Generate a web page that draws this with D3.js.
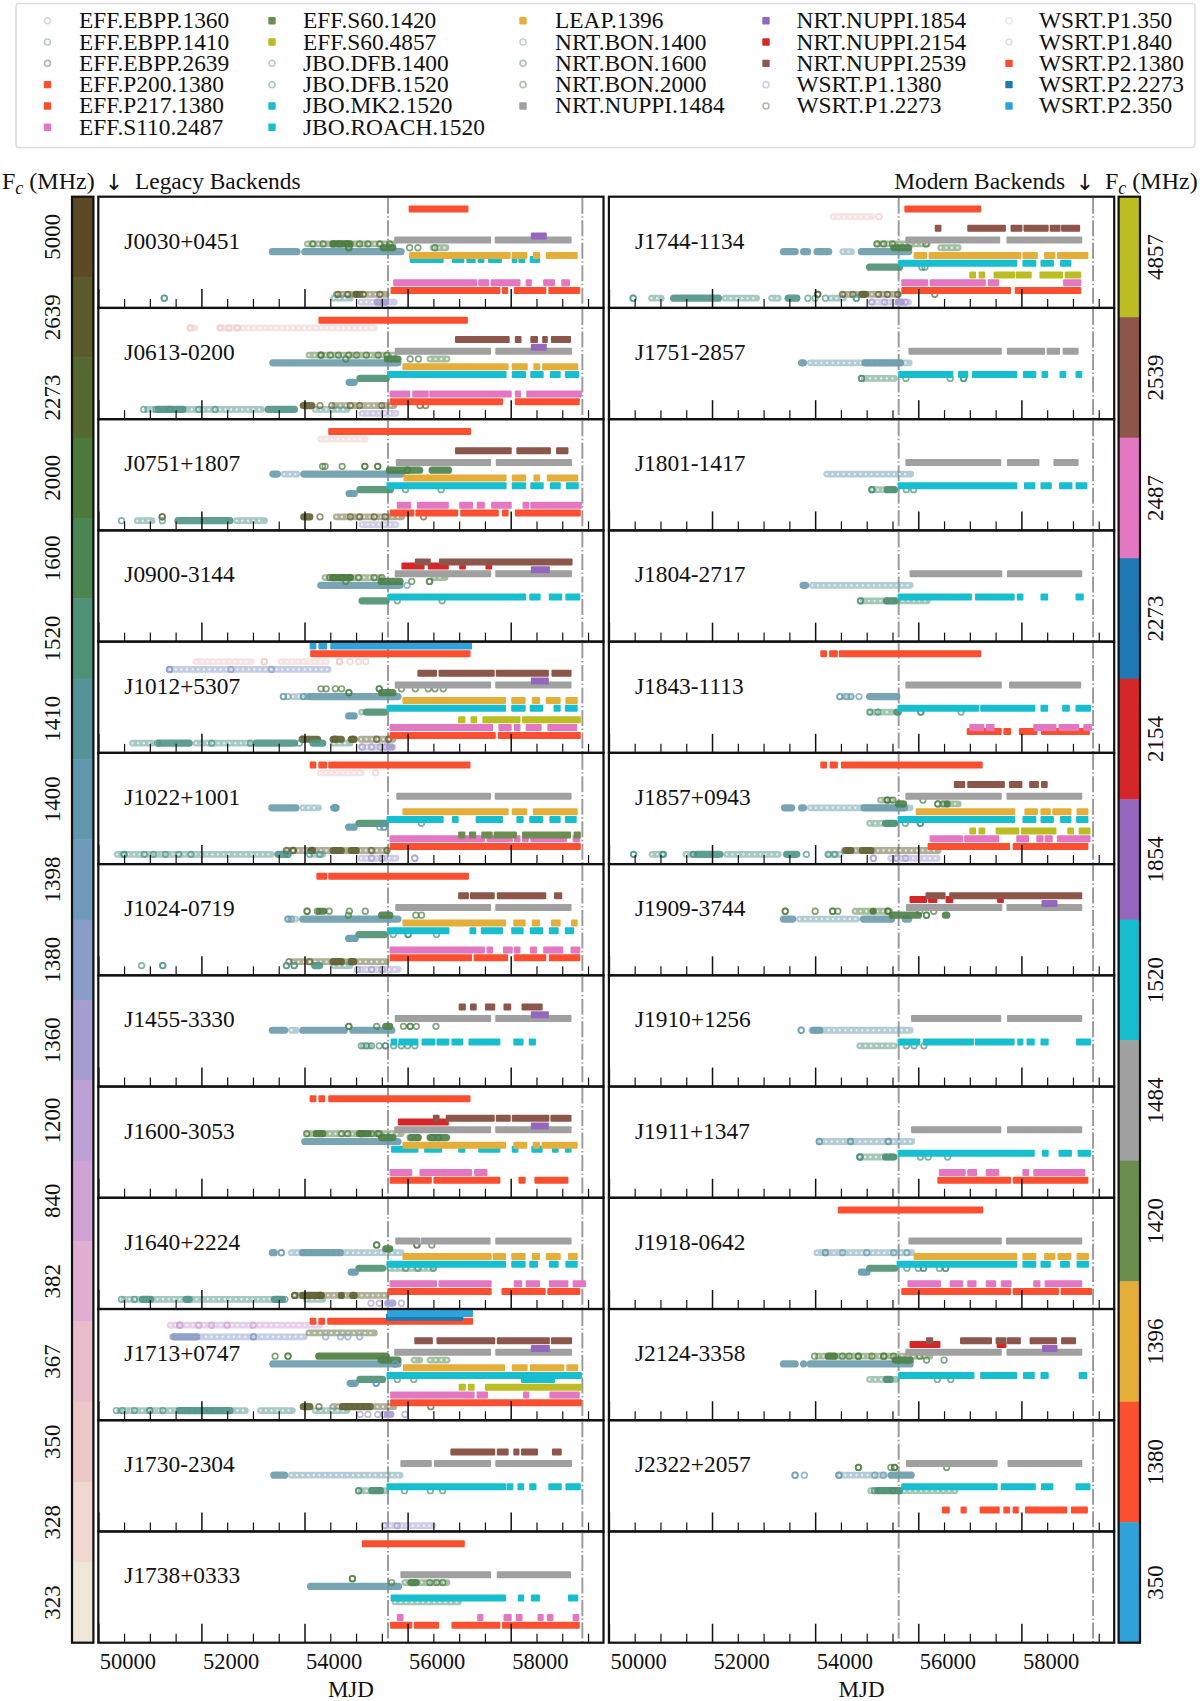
<!DOCTYPE html>
<html>
<head>
<meta charset="utf-8">
<script src="https://cdn.jsdelivr.net/npm/d3@7"></script>
<style>
  html, body { margin: 0; padding: 0; background: white; }
  text { font-family: "Liberation Serif", serif; fill: #111; }
</style>
</head>
<body>
<div id="chart"></div>
<script>
// backend ids, same order as the legend
const E1360=0,E1410=1,E2639=2,P200=3,P217=4,S110=5,S1420=6,S4857=7,D1400=8,D1520=9,MK2=10,ROACH=11,LEAP=12,
      B1400=13,B1600=14,B2000=15,N1484=16,N1854=17,N2154=18,N2539=19,W1380=20,W2273=21,W350=22,W840=23,
      P1380=24,P2273=25,P350=26,ROACH2=27;

const backendNames = ["EFF.EBPP.1360","EFF.EBPP.1410","EFF.EBPP.2639","EFF.P200.1380","EFF.P217.1380","EFF.S110.2487",
  "EFF.S60.1420","EFF.S60.4857","JBO.DFB.1400","JBO.DFB.1520","JBO.MK2.1520","JBO.ROACH.1520",
  "LEAP.1396","NRT.BON.1400","NRT.BON.1600","NRT.BON.2000","NRT.NUPPI.1484",
  "NRT.NUPPI.1854","NRT.NUPPI.2154","NRT.NUPPI.2539","WSRT.P1.1380","WSRT.P1.2273",
  "WSRT.P1.350","WSRT.P1.840","WSRT.P2.1380","WSRT.P2.2273","WSRT.P2.350"];
// line of each backend inside a panel, counted from the top (ROACH2: the second ROACH line on J1713)
const backendLine = [27,26,25,23,24,22,21,20,19,18,16,17,15,14,13,12,11,10,9,8,7,6,5,4,3,2,1,18];
const backendColors = ["#a59ccf","#4f9488","#5f5f30","#fc4f30","#fc4f30","#e377c2","#6b8e4e","#bcbd22","#6097ad","#4b8f70","#17becf","#17becf",
  "#e5ae38","#6a9bab","#4a8048","#4c7a3c","#a0a0a0","#9467bd","#d62728","#8c564b","#8a9cc8","#55692f",
  "#ecc9c8","#cfa2d4","#fc4f30","#1f77b4","#30a2da","#17becf"];
const ringBackends = [E1360,E1410,E2639,D1400,D1520,B1400,B1600,B2000,W1380,W2273,W350,W840];

const pulsars = ["J0030+0451","J0613-0200","J0751+1807","J0900-3144","J1012+5307","J1022+1001","J1024-0719","J1455-3330","J1600-3053","J1640+2224","J1713+0747","J1730-2304","J1738+0333",
  "J1744-1134","J1751-2857","J1801-1417","J1804-2717","J1843-1113","J1857+0943","J1909-3744","J1910+1256","J1911+1347","J1918-0642","J2124-3358","J2322+2057"];

const legacyFreqs = [5000,2639,2273,2000,1600,1520,1410,1400,1398,1380,1360,1200,840,382,367,350,328,323];
const legacyColors = ["#5c4a26","#5a5a2a","#55692f","#4c7a3c","#4a8552","#4f9176","#559399","#6097ad","#6e9bba","#8a9cc8","#a59ccf","#bda0d6","#cfa2d4","#e0aed0","#e8bccb","#ecc9c8","#efd8cf","#f0e6d8"];
const modernFreqs = [4857,2539,2487,2273,2154,1854,1520,1484,1420,1396,1380,350];
const modernColors = ["#bcbd22","#8c564b","#e377c2","#1f77b4","#d62728","#9467bd","#17becf","#a0a0a0","#6b8e4e","#e5ae38","#fc4f30","#30a2da"];

const xMajor = [50000,52000,54000,56000,58000];
const xMinor = [50500,51000,51500,52500,53000,53500,54500,55000,55500,56500,57000,57500,58500,59000,59500];
const eraLines = [55620,59390];

// every entry: backend, then start,end pairs in MJD. one row per pulsar, in the order of pulsars
const barSpans = [
 /*J0030*/ [[P1380,56020,57180],[N1484,55740,57620,57690,59180],[N1854,58390,58700],[MK2,56040,56700,56860,57100,57140,57320,57360,57490,57560,57830,58020,58130,58150,58280,58370,58570],[LEAP,56030,58000,58020,58320,58430,58570,58680,59300],[S110,55720,57350,57370,57580,57610,58190,58290,58410,58630,58860,58980,59150],[P217,55670,57800,57830,57950,58060,58690,58730,59350]],
 /*J0613*/ [[P1380,54270,57170],[N2539,56920,57980,58080,58210,58380,58530,58610,58720,58780,59170],[N1484,55750,57620,57700,59190],[N1854,58390,58700],[ROACH,55600,57920,58020,58300,58380,58640,58760,58970,59050,59330],[LEAP,55900,57960,58020,58330,58440,58570,58610,59310],[S110,55650,56050,56090,56410,56420,58020,58080,58200,58300,59380],[P217,55650,57850,58080,59340]],
 /*J0751*/ [[P1380,54460,57230],[N2539,56920,58020,58110,58780,58880,59120],[N1484,55770,57620,57710,59190],[ROACH,55590,57920,58020,58300,58380,58640,58760,58970,59070,59320],[LEAP,55920,57920,58020,58300,58440,58570,58700,59310],[S110,55790,56070,56180,56800,57000,57270,57340,57500,57620,58020,58230,58360,58380,59380],[P217,55650,56130,56150,56980,57020,57770,57830,57960,58080,59360]],
 /*J0900*/ [[N2154,55880,56330,56390,56800,57000,57130,57510,57640],[N2539,56140,56450,56610,59200],[N1484,55750,57620,57700,59190],[N1854,58390,58760],[ROACH,55610,58300,58360,58580,58740,59000,59060,59350]],
 /*J1012*/ [[P350,54100,54230,54270,54440,54500,57250],[P1380,54110,57220],[N2539,56190,56570,56600,57690,57710,58740,58790,59180],[N1484,55750,57620,57700,59180],[N1854,58390,58740],[ROACH,55590,57910,58010,58290,58370,58630,58830,58970,59050,59300],[LEAP,55900,57910,58010,58290,58410,58570,58680,58970,59060,59300],[S4857,56980,57120,57220,57350,57450,58190,58220,59360],[S110,55650,57660,57760,58020,58060,58190,58290,58600,58710,59290],[P217,55650,57710,57750,59360]],
 /*J1022*/ [[P1380,54100,54230,54270,54440,54460,57220],[N1484,55780,57620,57690,59180],[ROACH,55590,56700,56860,56990,57320,57850,58110,58250,58360,58630,58750,58970,59050,59280],[LEAP,55900,57960,58020,58320,58430,59300],[S110,55650,57500,57530,58040,58060,58190,58220,58350,58380,59090,59200,59350],[S1420,56980,57120,57190,57330,57430,57650,57670,58120,58220,59170,59220,59360],[P217,55650,59360]],
 /*J1024*/ [[P1380,54230,54440,54460,57190],[N2539,56980,57190,57210,57690,57730,58690,58840,59000],[N1484,55760,57620,57700,59180],[ROACH,55600,56810,57200,57330,57420,57850,58010,58250,58370,58630,58740,58930,59050,59230],[LEAP,55900,57910,58050,58290,58410,58570,58780,58970,59170,59300],[S110,55650,57500,57530,57660,57850,58040,58060,58190,58370,58510,58630,59020,59160,59350],[P217,55650,57250,57280,57950,58060,58690,58740,59350]],
 /*J1455*/ [[N2539,56990,57130,57210,57340,57500,57700,57860,58010,58210,58620],[N1484,55750,57620,57700,59180],[N1854,58390,58740],[ROACH,55670,55800,55820,56210,56270,56540,56560,56810,56850,57080,57180,57800,58050,58250,58350,58490]],
 /*J1600*/ [[P1380,54100,54230,54270,54400,54460,57220],[N2154,55810,56800],[N2539,56490,56620,56740,57690,57710,58000,58020,58750,58770,59180],[N1484,55740,57620,57700,59180],[N1854,58390,58740],[MK2,55680,56210,56320,56670,56980,57120,57370,57800,58020,58150,58400,58620,58800,58930,59050,59180],[LEAP,55900,57910,58050,58320,58430,58570,58600,59300],[S110,55650,56090,56230,57250,57290,57550],[P217,55650,56470,56500,57800,58150,58290,58460,59120]],
 /*J1640*/ [[N1484,55760,56240,56250,57610,57700,59180],[ROACH,55590,57910,58010,58290,58360,58530,58740,58930,59060,59300],[LEAP,55900,57630,57650,57910,58010,58290,58410,58570,58680,58970,59110,59300],[S110,55650,56570,56600,57630,58060,58220,58290,58570,58740,59120,59200,59460],[P217,55620,57630,57820,58680,58710,59350]],
 /*J1713*/ [[P2273,55580,57080],[P350,55610,57270],[P1380,54100,54230,54270,54400,54440,57270],[N2539,56130,56490,56560,57700,57730,58760,58780,59190],[N1484,55740,57620,57700,59190],[N1854,58390,58760],[ROACH2,58200,58860],[ROACH,55590,59380],[LEAP,55910,57890,58020,58330,58370,59040,59080,59310],[S4857,56990,57130,57170,57300,57500,59380],[S110,55660,57300,57340,57560,58240,58360,58750,59340],[P217,55660,59380]],
 /*J1730*/ [[N2539,56830,57700,57730,57960,58050,58170,58200,58530,58800,58990],[N1484,55860,56470,56510,57620,57700,59190],[ROACH,55590,57910,57920,58050,58130,58260,58360,58500,58730,58990,59060,59360]],
 /*J1738*/ [[P1380,55110,57110],[N1484,55860,57620,57730,59170],[ROACH,55670,57910,58140,58260,58390,58570,59110,59310],[S110,55790,55920,57350,57470,57860,58020,58100,58230,58520,58640,58700,58830,59200,59330],[P217,55660,56090,56120,56610,56850,57800,57830,59340]],
 /*J1744*/ [[P1380,55730,57220],[N2539,56320,56450,56950,57700,57790,58020,58040,58530,58550,58760,58770,59140],[N1484,55750,57590,57710,59180],[ROACH,55610,57920,58020,58290,58370,58630,58750,58970],[LEAP,55910,56170,56200,58000,58020,58320,58440,58660,58690,59300],[S4857,56990,57120,57170,57300,57460,57880,57890,58200,58350,58810,58840,59160],[S110,55670,56190,56220,57310,57350,57570,58810,59160],[P217,55670,57800,57870,59160]],
 /*J1751*/ [[N1484,55810,57620,57720,58460,58490,58750,58800,59110],[ROACH,55610,56680,56770,56970,57040,57920,58030,58290,58390,58520,58740,58870,59050,59180]],
 /*J1801*/ [[N1484,55750,57610,57720,58350,58620,59110],[ROACH,55600,57920,58050,58270,58370,58590,58730,58990,59050,59280]],
 /*J1804*/ [[N1484,55830,57630,57720,59180],[ROACH,55600,57040,57100,57870,57910,58040,58370,58520,59050,59210]],
 /*J1843*/ [[P1380,54100,54230,54270,54440,54460,57220],[N1484,55750,57620,57760,59160],[ROACH,55600,57180,57200,58270,58370,58520,58790,58940,59050,59350],[P200,56940,57620,57650,57800,57950,58310,58380,59330],[S110,56990,57280,57310,57480,58230,58680,58720,59120,59200,59370]],
 /*J1857*/ [[P1380,54100,54230,54280,54440,54500,57250],[N2539,56690,56910,56950,57680,57760,58020,58150,58340,58380,58510],[N1484,55750,57620,57710,59180],[ROACH,55600,57880,58020,58290,58370,58630,58750,58970,59060,59300],[LEAP,55950,57880,58060,58320,58370,58570,58600,58970,59070,59300],[S4857,56990,57120,57170,57300,57500,57960,57990,58680,58890,59020,59110,59340],[S110,56220,56870,56890,57570,57900,58150,58290,58430,58450,58610,58690,59340],[P217,56180,57780,57830,59300]],
 /*J1909*/ [[N2154,55830,56170,56190,56370,56530,56680,57530,57660],[N2539,56140,56530,56600,59180],[N1484,55760,57630,57710,59180],[N1854,58390,58700]],
 /*J1910*/ [[N1484,55860,57610,57720,59180],[ROACH,55600,56040,56090,57080,57100,57870,57920,58040,58100,58260,58370,58530,59060,59350]],
 /*J1911*/ [[N1484,55860,57610,57720,59180],[ROACH,55600,58260,58400,58530,58720,58980,59090,59350],[S110,56400,56920,56950,57140,57310,57570,58020,58150,58230,59240],[P217,56370,57800,57830,59300]],
 /*J1918*/ [[P1380,54440,57260],[N1484,55810,57620,57700,59180],[ROACH,55580,57920,58020,58290,58370,58570,58750,58940,59070,59310],[LEAP,55910,57920,58020,58290,58440,58660,58700,58970,59070,59310],[S110,55790,56440,56610,56870,56950,57130,57310,57510,57600,57810,58230,58370,58450,59180],[P217,55670,57800,57830,58730,58760,59370]],
 /*J2124*/ [[N2154,55830,56430,57520,57710],[N2539,56150,56290,56810,57430,57500,57710,57720,57990,58160,58690,58770,59060],[N1484,55750,57620,57710,59180],[N1854,58400,58700],[ROACH,55610,57090,57200,57920,58030,58260,58370,58530,59110,59280]],
 /*J2322*/ [[N1484,55760,57540,57730,59180],[ROACH,55670,57540,57600,58280,58380,58620,59050,59340],[P200,56460,56610,56820,56940,57190,57580,57650,57780,57830,57950,58070,58890,58960,59290]]
];

// stretches where the legacy epochs overlap into a solid band
const denseSpans = [
 /*J0030*/ [[B1400,53310,53920,53940,55940],[B2000,54490,54950],[B1600,55460,55780],[E2639,54930,55080],[E1360,55350,55640]],
 /*J0613*/ [[B1400,53320,55880],[B1600,55540,55880],[D1520,55010,55650],[D1400,54800,55030],[E2639,53910,54210],[E1410,51100,51710,53230,53870]],
 /*J0751*/ [[B1400,53320,53540,53920,55950],[B1600,55580,56300,56410,56860],[D1520,55010,55730],[D1400,54800,55030],[E2639,53920,54170],[E1410,51480,52620]],
 /*J0900*/ [[B1400,54250,55920],[B1600,55420,55920],[B2000,54480,54950],[D1520,55050,55650]],
 /*J1012*/ [[B1400,54040,55880],[B1600,55430,55780],[D1520,55135,55620],[D1400,54790,55030],[E2639,53930,54320,54490,54780,54840,55030],[E1410,51120,51830,53000,53870,54100,54420],[E1360,55580,55750]],
 /*J1022*/ [[B1400,53300,53900,54500,54680],[D1520,54990,55630],[D1400,54790,55030],[E2639,54060,54190,54490,54780,54840,55070],[E1410,53420,53710]],
 /*J1024*/ [[B1400,53900,55880],[B2000,54220,54440],[B1600,55430,55720],[D1520,54990,55620],[D1400,54790,55050],[E2639,54490,54780,54840,55020],[E1410,54130,54360]],
 /*J1455*/ [[B1400,53310,53680,53900,54840,54870,55760],[B1600,55510,55720]],
 /*J1600*/ [[B1400,53940,55880],[B2000,54160,54420,55000,55300],[B1600,55430,55780,56010,56270,56370,56820]],
 /*J1640*/ [[B1400,53310,53480,53900,54760],[B1600,55510,55720],[D1520,54990,55580],[D1400,54840,55050],[E2639,53900,54390,54650,54780,54870,55030],[E1410,50790,51080,51640,51830,53350,53640],[E1360,55550,55780]],
 /*J1713*/ [[B1400,53320,55880],[B2000,54210,55650],[B1600,55420,55880],[D1520,55010,55580],[D1400,54820,55050],[E2639,53910,54170,54670,55340],[E1410,51500,52620],[W1380,51400,51980],[E1360,55540,55740]],
 /*J1730*/ [[B1400,53340,53680],[D1520,55240,55540]],
 /*J1738*/ [[B1400,54050,55890],[B1600,56000,56230]],
 /*J1744*/ [[B1400,53320,53680,53710,53920,53970,54330,54830,55880],[B1600,55460,55880],[D1520,54990,55700],[E2639,54840,55040],[E1410,51190,52190,53410,53710],[E1360,55550,55740]],
 /*J1751*/ [[B1400,53670,53840,54900,55720]],
 /*J1801*/ [[D1520,55330,55600]],
 /*J1804*/ [[B1400,53700,53880],[D1520,55320,55610]],
 /*J1843*/ [[B1400,54990,55650],[D1520,55520,55680]],
 /*J1857*/ [[B1400,53340,53610,53670,53840,54880,55800],[B1600,55550,55780,56500,56620],[D1520,55300,55610],[E2639,54530,54760,54850,55150],[E1410,51640,52220,53380,53710]],
 /*J1909*/ [[B1400,53320,53630,54870,55550,55680,55880],[B2000,55060,55190],[B1600,55430,56070,56460,56620]],
 /*J1910*/ [[B1400,53900,54160]],
 /*J1911*/ [[D1520,55300,55590]],
 /*J1918*/ [[D1520,54990,55610],[D1400,54830,55070]],
 /*J2124*/ [[B1400,53320,53680,53710,53840,53840,55910],[B2000,54190,54440],[B1600,55490,55910],[D1520,55320,55520]],
 /*J2322*/ [[B1400,55410,55930],[D1520,55150,55700]]
];

// stretches of separate epochs that just touch each other
const looseSpans = [
 /*J0030*/ [[B2000,53990,55780],[B1600,56430,56810],[E2639,54550,55650],[E1410,54500,54950],[E1360,55030,55810]],
 /*J0613*/ [[W350,51710,51940,52300,55420],[B2000,54020,55800],[B1600,56370,56830],[E2639,54520,55800],[E1410,50880,53230,54140,54890],[E1360,55050,55840]],
 /*J0751*/ [[W350,54250,55240],[B1400,53540,53920],[E2639,54550,55950],[E1410,50690,51110,52620,53290],[E1360,55050,55840]],
 /*J0900*/ [[B2000,54330,55540,56450,56790]],
 /*J1012*/ [[W350,51830,53030,53480,54490],[W1380,51330,54520],[B1400,53710,53970],[D1520,55070,55140],[E2639,55030,55780],[E1410,50600,51110,51830,53000,54500,54950],[E1360,55030,55780]],
 /*J1022*/ [[W350,54240,55170],[B1400,53900,54340],[E2639,53600,55650],[E1410,50300,53420,54100,54420],[E1360,55030,55840]],
 /*J1024*/ [[B1400,53650,53900],[E2639,53710,55650],[E1410,54500,54950],[E1360,55030,55880]],
 /*J1455*/ [[B1400,53680,53900],[D1520,55070,55330]],
 /*J1600*/ [[B2000,53990,55940]],
 /*J1640*/ [[B1400,53680,55940],[D1520,55580,56560],[E2639,53740,55650],[E1410,50430,53580,53970,54420]],
 /*J1713*/ [[W840,51330,54360],[W1380,51370,54060],[W2273,54020,55420],[B1600,56060,56300,56370,56830],[E2639,54480,55800],[E1410,50350,52920,53080,53830,54140,54890]],
 /*J1730*/ [[B1400,53680,55920],[D1520,55030,55640],[E1360,55490,56550]],
 /*J1738*/ [[B1600,55880,56830],[D1520,55690,57050]],
 /*J1744*/ [[W350,54280,55170],[B2000,55130,56240],[B1400,54470,54770],[B1600,56370,56840],[E2639,54490,55680],[E1410,50760,51080,52190,52930,53090,53350,54240,54610],[E1360,55030,55880]],
 /*J1751*/ [[B1400,53840,55890],[D1520,54890,55600]],
 /*J1801*/ [[B1400,54160,55920],[D1520,55040,55600]],
 /*J1804*/ [[B1400,53880,55910],[D1520,54870,56240]],
 /*J1843*/ [[B1400,54500,54750],[D1520,55000,55560]],
 /*J1857*/ [[B2000,55200,55550],[B1600,56430,56840],[B1400,53840,55910],[D1520,54990,55600],[E2639,54500,56450],[E1410,50770,51130,51430,51640,52220,53350,54200,54550],[E1360,55400,56430]],
 /*J1909*/ [[B2000,54710,55510],[B1400,53630,54870]],
 /*J1910*/ [[B1400,53870,55910],[D1520,54800,55600]],
 /*J1911*/ [[B1400,54040,55940],[D1520,54790,55590]],
 /*J1918*/ [[B1400,53970,55940]],
 /*J2124*/ [[B2000,53990,56290],[D1520,54990,55640]],
 /*J2322*/ [[B1400,54410,55410],[D1520,55010,56780]]
];

// epochs that stand out on their own
const ringEpochs = [
 /*J0030*/ [[B2000,54160,54360,54550,54680,54840,55070,55230,55460,55650],[B1600,54860,54860,56040,56200,56530],[E2639,54650,54840,55070,55140,55460],[E1410,51280,51280]],
 /*J0613*/ [[W350,51790,52360,52530,52700],[B2000,54320,54320,54500,54660,54860,55010,55200,55430,55600],[B1600,54800,56050,56210],[E2639,54300,54530,54890,55070,55500,56240,56350],[E1410,50880,51120,51380,51950,52270]],
 /*J0751*/ [[B2000,54350,54400,54730,55170,55170,55420,55420],[B1600,55990,56000],[D1520,55960,56650],[E2639,51240,51240,54300,54890,55070,55350,55560,56310],[E1410,50450,51240]],
 /*J0900*/ [[B2000,54490,54560,54720,54890,55050,55350,55500],[B1600,54800,56080,56420,56430],[B1400,55990],[D1520,55800,56670]],
 /*J1012*/ [[W350,53220,53220,54680,54680,54880,55050,55190],[W1380,51380,51380,52570,53360],[B2000,54320,54420,54600,54720,55450,55450,55880,56150,56400,56530,56690],[B1600,54860,54860],[B1400,53590,53590,53680,53980,53980,54050],[E2639,53960,53960,54590,54940,55400,55630],[E1410,51150,52200,52950,53900],[E1360,55120,55300,55470,55580]],
 /*J1022*/ [[W350,55380],[B1400,54600,54600],[D1520,56270],[D1400,55460,55540,55540],[E2639,53780,53780,54150,54150,53650,55300,55600],[E1410,50500,50500,50890,51070,51300,51560,51800,53680,53680,54100,54300],[E1360,56140,56140,55300,55500]],
 /*J1024*/ [[B2000,54050,54050,54250,54480,54870,55180],[B1600,54850,56160,56270],[B1400,53680,53680,53750],[D1520,55720,56010,56010,56560],[E2639,53700,54100],[E1410,50840,51250,51250,53650,53650,53800,53800],[E1360,55030,55300,55500]],
 /*J1455*/ [[B1600,54860,54860,55400,55920,56050,56050,56170,56550],[D1520,55100,55200,55300,55450,55570,55570,55730,55880,56000,56140]],
 /*J1600*/ [[B2000,54040,54720,54840,55420,55100,55300,55450],[B1600,56050,56200,56480,56600]],
 /*J1640*/ [[B2000,55400,55400,56180,56180,56470],[B1400,53550,53550],[D1520,55960,56200,56500],[E2639,54310,54310,53810,53810],[E1410,50450,50700,53620],[E1360,55290,55450,55880]],
 /*J1713*/ [[W840,51580,51580,51950,52200,52500,53000],[W1380,53010,53010,54410,54700,54840,55070],[B2000,53430,53680,53680],[B1400,55760,55760],[D1520,55800,56120],[D1400,55390,55390],[E2639,54280,56450],[E1410,50350,50470,50700,51000,51000,51250],[E1360,55080,55230,55420,55540,55950]],
 /*J1730*/ [[D1520,55050,55050,55940,56440,56680],[E1360,55560,55800]],
 /*J1738*/ [[B2000,54930,54930],[B1600,55690,56430,56560,56680]],
 /*J1744*/ [[W350,55240],[B2000,55200,55330,55500,56150],[D1520,56070,56130],[E2639,54050,54050,54530,54730,55230,55400,55600,56320],[E1410,50470,50470,53860,54000,54200,54800,54800],[E1360,55100,55350,55750]],
 /*J1751*/ [[D1520,54900,54900,55760,56620,56880,56880]],
 /*J1801*/ [[D1520,55100,55100,55770,55910]],
 /*J1804*/ [[D1520,54880,54880]],
 /*J1843*/ [[B1400,54480,54480,54610,54700,54850],[D1520,55060,55220,56050,56050,56830]],
 /*J1857*/ [[B2000,55400,55400,55510,56090],[B1600,56380,56380,56480],[D1520,55750,56040,56040],[E1410,50480,50480,51050,51050,51640,51640,53830,54250,54380],[E1360,55130,55130,55580,55750]],
 /*J1909*/ [[B2000,53420,53420,54000,54340,54340,54440,55410,55410,56030,56300],[B1600,56160,56160]],
 /*J1910*/ [[B1400,53730,53730],[D1520,55770,55920,56110]],
 /*J1911*/ [[B1400,54080,54080,54690,54690,55420,55420],[D1520,54870,54870,56040,56190,56570]],
 /*J1918*/ [[B1400,54200,54200,54530,55000,55520,55780],[D1520,55780,56000,56100,56100,56410,56530,56530]],
 /*J2124*/ [[B2000,53990,54530,54660,54840,54840,55100,55330,55330,55520,56030],[B1600,56160,56500],[D1520,56370,56630]],
 /*J2322*/ [[B2000,54840,54840,55470,55540,55540,56550],[B1400,53610,53610,53790,54460,54460,55160,55320],[D1520,55150,55500]]
];
</script>
<script>
var W = 1200, H = 1701;
var panelTop = 196.7, panelBottom = 1642.7;
var cols = [{ left: 98.3, right: 603.5 }, { left: 608.9, right: 1114.2 }];
var barH = 7;
var capR = 3.4; // spans are read at their outer edge, the round caps add this much

var svg = d3.select("#chart").append("svg")
  .attr("width", W).attr("height", H)
  .attr("xmlns", "http://www.w3.org/2000/svg");

var rowBand = d3.scaleBand().domain(d3.range(13)).range([panelTop, panelBottom]);
var lineY = d3.scaleLinear().domain([0, 27]).range([0.6, 105.4]);
var isRing = function(b) { return ringBackends.indexOf(b) >= 0; };

// [backend, a, b, c, d] -> [{b, s, e}, ...]
function spansOf(rows) {
  var out = [];
  rows.forEach(function(r) {
    for (var i = 1; i < r.length; i += 2) out.push({ b: r[0], s: r[i], e: r[i + 1] });
  });
  return out;
}
function epochsOf(rows) {
  var out = [];
  rows.forEach(function(r) {
    r.slice(1).forEach(function(m) { out.push({ b: r[0], m: m }); });
  });
  return out;
}

function drawPanel(col, row, idx) {
  var x = d3.scaleLinear().domain([50000, 59800]).range([cols[col].left, cols[col].right]);
  var top = rowBand(row);
  var w = cols[col].right - cols[col].left, h = rowBand.bandwidth();
  var g = svg.append("g").attr("transform", "translate(0," + top + ")");

  // line between two edges, pulled in by the cap radius
  function runLine(sel) {
    sel.attr("x1", function(d) { return Math.min(x(d.s) + capR, (x(d.s) + x(d.e)) / 2); })
      .attr("x2", function(d) { return Math.max(x(d.e) - capR, (x(d.s) + x(d.e)) / 2); })
      .attr("y1", function(d) { return lineY(backendLine[d.b]); })
      .attr("y2", function(d) { return lineY(backendLine[d.b]); })
      .attr("stroke-linecap", "round");
  }

  // era lines, restarted in each panel
  g.selectAll("line.era").data(eraLines).enter().append("line")
    .attr("class", "era")
    .attr("x1", function(d) { return x(d); }).attr("x2", function(d) { return x(d); })
    .attr("y1", 1).attr("y2", h)
    .attr("stroke", "#999").attr("stroke-width", 1.9)
    .attr("stroke-dasharray", "16 2.5 1.5 2.5");

  if (idx !== null) {
    var dense = spansOf(denseSpans[idx]), loose = spansOf(looseSpans[idx]);
    var rings = epochsOf(ringEpochs[idx]), bars = spansOf(barSpans[idx]);

    g.selectAll("line.loose").data(loose).enter().append("line")
      .attr("class", "loose").call(runLine)
      .attr("stroke", function(d) { return backendColors[d.b]; })
      .attr("stroke-width", 6.8).attr("stroke-opacity", 0.5);
    // ring centres of the chains
    g.selectAll("line.holes").data(loose).enter().append("line")
      .attr("class", "holes").call(runLine)
      .attr("stroke", "white").attr("stroke-width", 2.4)
      .attr("stroke-dasharray", "0 5.6").attr("stroke-opacity", 0.7);

    g.selectAll("line.dense").data(dense).enter().append("line")
      .attr("class", "dense").call(runLine)
      .attr("stroke", function(d) { return backendColors[d.b]; })
      .attr("stroke-width", 7.2).attr("stroke-opacity", 0.9);

    g.selectAll("circle").data(rings).enter().append("circle")
      .attr("cx", function(d) { return x(d.m); })
      .attr("cy", function(d) { return lineY(backendLine[d.b]); })
      .attr("r", 2.8).attr("fill", "none")
      .attr("stroke", function(d) { return backendColors[d.b]; })
      .attr("stroke-width", 1.7).attr("stroke-opacity", 0.7);

    g.selectAll("rect.bar").data(bars.sort(function(a, b) { return a.b - b.b; })).enter().append("rect")
      .attr("class", "bar")
      .attr("x", function(d) { return x(d.s); })
      .attr("width", function(d) { return x(d.e) - x(d.s); })
      .attr("y", function(d) { return lineY(backendLine[d.b]) - barH / 2; })
      .attr("height", barH).attr("rx", 1)
      .attr("fill", function(d) { return backendColors[d.b]; });

    g.append("text")
      .attr("x", cols[col].left + 26).attr("y", 52)
      .attr("font-size", 23.4).text(pulsars[idx]);
  }

  // ticks point inwards, the long ones carry the labels
  var majorAxis = d3.axisBottom(x).tickValues(xMajor).tickSize(-19)
    .tickFormat(row === 12 ? d3.format("d") : "").tickPadding(0).tickSizeOuter(0);
  var minorAxis = d3.axisBottom(x).tickValues(xMinor).tickSize(-9).tickFormat("").tickSizeOuter(0);
  var gMinor = g.append("g").attr("transform", "translate(0," + h + ")").call(minorAxis);
  var gMajor = g.append("g").attr("transform", "translate(0," + h + ")").call(majorAxis);
  gMinor.select(".domain").remove();
  gMajor.select(".domain").remove();
  gMinor.selectAll("line").attr("stroke", "#111").attr("stroke-width", 1.2);
  gMajor.selectAll("line").attr("stroke", "#111").attr("stroke-width", 1.5);
  gMajor.selectAll("text")
    .attr("text-anchor", "start").attr("dx", 1).attr("y", 26).attr("dy", 0)
    .attr("font-size", 22.5).attr("font-family", "Liberation Serif").attr("fill", "#111");

  g.append("rect").attr("x", cols[col].left).attr("y", 0).attr("width", w).attr("height", h)
    .attr("fill", "none").attr("stroke", "#111").attr("stroke-width", 2.2);
}

pulsars.forEach(function(p, i) {
  drawPanel(i < 13 ? 0 : 1, i < 13 ? i : i - 13, i);
});
drawPanel(1, 12, null);

// colour bars
function colorBar(x0, x1, freqs, colors, labelX) {
  var band = d3.scaleBand().domain(freqs).range([panelTop, panelBottom]);
  svg.selectAll(null).data(freqs).enter().append("rect")
    .attr("x", x0).attr("width", x1 - x0)
    .attr("y", function(d) { return band(d); })
    .attr("height", band.bandwidth() + 0.5)
    .attr("fill", function(d, i) { return colors[i]; });
  svg.append("rect").attr("x", x0).attr("y", panelTop).attr("width", x1 - x0)
    .attr("height", panelBottom - panelTop)
    .attr("fill", "none").attr("stroke", "#111").attr("stroke-width", 2.2);
  svg.selectAll(null).data(freqs).enter().append("text")
    .attr("transform", function(d) {
      return "translate(" + labelX + "," + (band(d) + band.bandwidth() / 2) + ") rotate(-90)";
    })
    .attr("text-anchor", "middle").attr("dy", "0.35em")
    .attr("font-size", 23).text(function(d) { return d; });
}
colorBar(72, 93.4, legacyFreqs, legacyColors, 51.5);
colorBar(1118.6, 1140, modernFreqs, modernColors, 1155);

// legend
svg.append("rect").attr("x", 16).attr("y", 3.5).attr("width", 1179).attr("height", 144)
  .attr("rx", 3).attr("fill", "white").attr("stroke", "#dcdcdc").attr("stroke-width", 1.4);
var legendMarkX = [47.5, 272, 523, 766, 1009];
var legendTextX = [79, 303, 555, 796.5, 1039];
var legendCounts = [6, 6, 5, 5, 5];
var entries = [];
legendCounts.forEach(function(n, c) {
  d3.range(n).forEach(function(r) { entries.push({ c: c, r: r, b: entries.length }); });
});
var legendY = d3.scaleLinear().domain([0, 5]).range([20.7, 127.3]);
var items = svg.selectAll("g.item").data(entries).enter().append("g").attr("class", "item");
items.filter(function(d) { return isRing(d.b); }).append("circle")
  .attr("cx", function(d) { return legendMarkX[d.c]; })
  .attr("cy", function(d) { return legendY(d.r); })
  .attr("r", 3).attr("fill", "none")
  .attr("stroke", function(d) { return backendColors[d.b]; })
  .attr("stroke-width", 1.6).attr("stroke-opacity", 0.45);
items.filter(function(d) { return !isRing(d.b); }).append("rect")
  .attr("x", function(d) { return legendMarkX[d.c] - 3.7; })
  .attr("y", function(d) { return legendY(d.r) - 3.7; })
  .attr("width", 7.4).attr("height", 7.4).attr("rx", 0.8)
  .attr("fill", function(d) { return backendColors[d.b]; });
items.append("text")
  .attr("x", function(d) { return legendTextX[d.c]; })
  .attr("y", function(d) { return legendY(d.r) + 7.5; })
  .attr("font-size", 23.4)
  .text(function(d) { return backendNames[d.b]; });

// headers
function fcLabel(x) {
  var t = svg.append("text").attr("x", x).attr("y", 189).attr("font-size", 24);
  t.append("tspan").text("F");
  t.append("tspan").attr("font-style", "italic").attr("font-size", 18).attr("dy", 5).text("c");
  t.append("tspan").attr("dy", -5).text(" (MHz)");
}
fcLabel(2);
fcLabel(1105);
function arrow(x) {
  svg.append("text").attr("x", x).attr("y", 190).attr("text-anchor", "middle")
    .style("font-family", "DejaVu Sans").attr("font-size", 22).text("↓");
}
arrow(114);
arrow(1085);
svg.append("text").attr("x", 135).attr("y", 189).attr("font-size", 23.4).text("Legacy Backends");
svg.append("text").attr("x", 1065).attr("y", 189).attr("text-anchor", "end").attr("font-size", 23.4).text("Modern Backends");

svg.selectAll(null).data(cols).enter().append("text")
  .attr("x", function(d) { return (d.left + d.right) / 2; })
  .attr("y", 1697).attr("text-anchor", "middle").attr("font-size", 23).text("MJD");
</script>
</body>
</html>
